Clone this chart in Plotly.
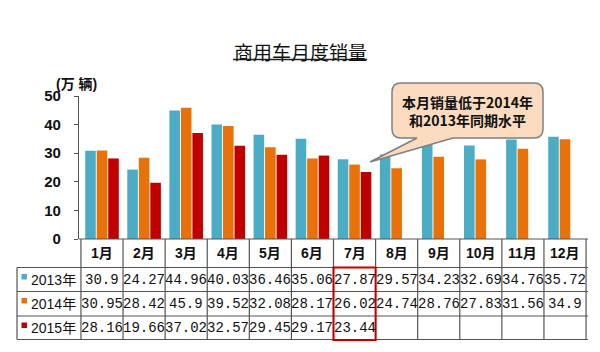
import plotly.graph_objects as go

months = ["1月", "2月", "3月", "4月", "5月", "6月", "7月", "8月", "9月", "10月", "11月", "12月"]
series_names = ["2013年", "2014年", "2015年"]
v2013 = [30.9, 24.27, 44.96, 40.03, 36.46, 35.06, 27.87, 29.57, 34.23, 32.69, 34.76, 35.72]
v2014 = [30.95, 28.42, 45.9, 39.52, 32.08, 28.17, 26.02, 24.74, 28.76, 27.83, 31.56, 34.9]
v2015 = [28.16, 19.66, 37.02, 32.57, 29.45, 29.17, 23.44, None, None, None, None, None]
colors = ["#4BACC6", "#E8710A", "#C00000"]
title_text = "商用车月度销量"
unit_text = "(万 辆)"
callout_text = "本月销量低于2014年<br>和2013年同期水平"
highlight_month = "7月"

W, H = 600, 352
L, R, T, B = 79, 12, 96, 113
PW, PH = W - L - R, H - T - B

def px(x):
    return (x - L) / PW

def py(y):
    return (H - B - y) / PH

CJK = "Liberation Sans, Noto Sans CJK SC"

fig = go.Figure()
for name, vals, c in zip(series_names, [v2013, v2014, v2015], colors):
    fig.add_trace(go.Bar(x=months, y=vals, name=name, marker=dict(color=c, line=dict(width=0)),
                         showlegend=False))

shapes = []
ann = []
line_col = "#555555"

def add_text(x, y, text, font, xref="paper", xanchor="center"):
    ann.append(dict(x=x, xref=xref, y=y, yref="paper", text=text, showarrow=False,
                    xanchor=xanchor, yanchor="middle", font=font))

# table geometry (pixels)
y_top = H - B
row_y = [267.5, 291.5, 316, 339.5]
x_left = 17
shapes.append(dict(type="line", xref="paper", yref="paper", x0=0, x1=1, y0=py(y_top), y1=py(y_top),
                   line=dict(color=line_col, width=1.2)))
for ry in row_y:
    shapes.append(dict(type="line", xref="paper", yref="paper", x0=px(x_left), x1=1, y0=py(ry), y1=py(ry),
                       line=dict(color=line_col, width=1.2)))
shapes.append(dict(type="line", xref="paper", yref="paper", x0=px(x_left), x1=px(x_left),
                   y0=py(row_y[0]), y1=py(row_y[-1]), line=dict(color=line_col, width=1.2)))
for k in range(len(months) + 1):
    shapes.append(dict(type="line", xref="x", yref="paper", x0=k - 0.5, x1=k - 0.5,
                       y0=py(y_top), y1=py(row_y[-1]), line=dict(color=line_col, width=1.2)))
hi = months.index(highlight_month)
shapes.append(dict(type="rect", xref="x", yref="paper", x0=hi - 0.5, x1=hi + 0.5,
                   y0=py(row_y[0]), y1=py(row_y[-1] + 0.5), line=dict(color="#C00000", width=2)))

for m in months:
    add_text(m, py((y_top + row_y[0]) / 2), m,
             dict(family=CJK, size=14, color="#111111", weight="bold"), xref="x")
for r, (name, vals, c) in enumerate(zip(series_names, [v2013, v2014, v2015], colors)):
    yc = (row_y[r] + row_y[r + 1]) / 2
    add_text(px(29), py(yc), name, dict(family=CJK, size=14, color="#111111"), xanchor="left")
    sq_top = row_y[r] + 6.5
    shapes.append(dict(type="rect", xref="paper", yref="paper", x0=px(21.5), x1=px(27),
                       y0=py(sq_top), y1=py(sq_top + 5.5), fillcolor=c, line=dict(width=0)))
    for m, v in zip(months, vals):
        if v is None:
            continue
        add_text(m, py(yc), f"{v:g}",
                 dict(family="Liberation Mono, DejaVu Sans Mono", size=14, color="#111111"), xref="x")

# title
add_text(px(300), py(51), title_text, dict(family="Noto Sans CJK SC", size=19, color="#111111"))
shapes.append(dict(type="line", xref="paper", yref="paper", x0=px(233), x1=px(367), y0=py(59.5), y1=py(59.5),
                   line=dict(color="#222222", width=1.5)))
add_text(px(76), py(84), unit_text, dict(family=CJK, size=14, color="#111111", weight="bold"))

# callout
x0c, x1c, y0c, y1c, rr = 392, 543, 83, 138, 9
tip = (370, 162)
def P(x, y):
    return f"{px(x):.5f},{py(y):.5f}"
path = (f"M {P(x0c + rr, y0c)} L {P(x1c - rr, y0c)} Q {P(x1c, y0c)} {P(x1c, y0c + rr)} "
        f"L {P(x1c, y1c - rr)} Q {P(x1c, y1c)} {P(x1c - rr, y1c)} "
        f"L {P(453, y1c)} L {P(*tip)} L {P(417, y1c)} "
        f"L {P(x0c + rr, y1c)} Q {P(x0c, y1c)} {P(x0c, y1c - rr)} "
        f"L {P(x0c, y0c + rr)} Q {P(x0c, y0c)} {P(x0c + rr, y0c)} Z")
shapes.append(dict(type="path", xref="paper", yref="paper", path=path, fillcolor="#FADBC0",
                   line=dict(color="#7F7F7F", width=1.5)))
add_text(px(467), py(111), callout_text, dict(family="Noto Sans CJK SC", size=14, color="#111111", weight="bold"))

fig.update_layout(
    width=W, height=H,
    margin=dict(l=L, r=R, t=T, b=B),
    paper_bgcolor="white", plot_bgcolor="white",
    barmode="group", bargap=0.18, bargroupgap=0.08,
    shapes=shapes, annotations=ann,
    font=dict(family=CJK),
    xaxis=dict(showticklabels=False, showgrid=False, zeroline=False, showline=False, ticks=""),
    yaxis=dict(range=[0, 50], dtick=10, showgrid=False, zeroline=False, showline=True,
               linecolor="#555555", linewidth=1.2, ticks="outside", ticklen=4, tickcolor="#555555",
               ticklabelstandoff=10,
               tickfont=dict(family="Liberation Sans", size=15, color="#111111", weight="bold")),
)
fig.write_html("out.html")
